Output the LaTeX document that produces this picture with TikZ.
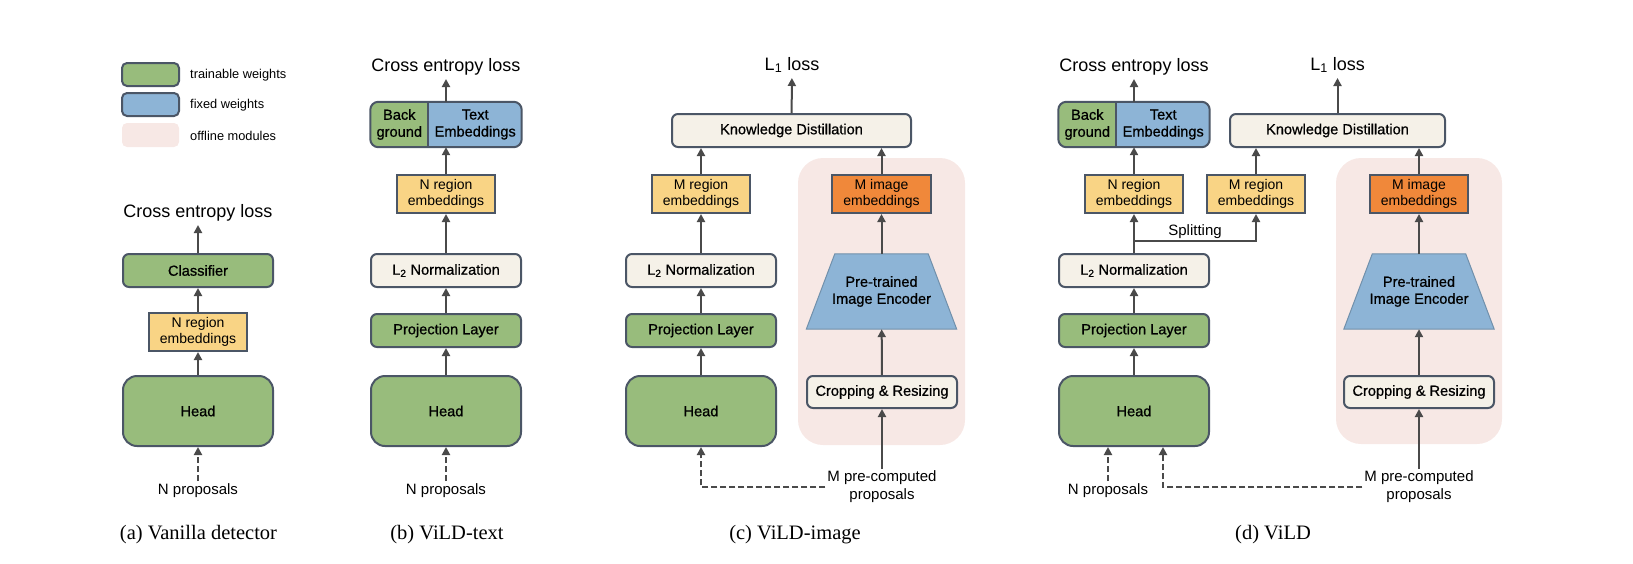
\documentclass[tikz,border=0pt]{standalone}
\usepackage{fontspec}
\setmainfont{Liberation Serif}
\setsansfont{Liberation Sans}
\newfontfamily\medfont{Liberation Sans}[FakeBold=0.7]
\usetikzlibrary{arrows.meta,calc}

\definecolor{trainc}{HTML}{98BC7C}
\definecolor{fixc}{HTML}{8DB4D6}
\definecolor{embc}{HTML}{F9D485}
\definecolor{imgc}{HTML}{F0883A}
\definecolor{normc}{HTML}{F5F1E8}
\definecolor{offc}{HTML}{F7E8E5}
\definecolor{edgec}{HTML}{4B5666}
\definecolor{arrc}{HTML}{4A4A4A}

\pgfdeclarelayer{bg}
\pgfsetlayers{bg,main}

\begin{document}
\begin{tikzpicture}[x=1pt,y=-1pt,
  box/.style={draw=edgec, line width=2pt, align=center, inner sep=0pt},
  trainbox/.style={box, fill=trainc, rounded corners=6pt, minimum width=150pt, minimum height=33pt, font=\medfont\fontsize{14.6}{17}\selectfont},
  normbox/.style={trainbox, fill=normc},
  headbox/.style={trainbox, minimum height=70pt, rounded corners=14pt},
  embbox/.style={box, fill=embc, minimum width=98pt, minimum height=38pt, font=\sffamily\fontsize{14}{16.5}\selectfont},
  encbox/.style={align=center, inner sep=0pt, minimum width=150pt, minimum height=75pt, font=\medfont\fontsize{14.6}{17}\selectfont},
  boxtext/.style={align=center, inner sep=0pt, font=\medfont\fontsize{14.6}{17}\selectfont},
  loss/.style={anchor=base, inner sep=0pt, outer sep=4pt, text depth=4pt, font=\sffamily\fontsize{18}{20}\selectfont},
  prop/.style={align=center, inner sep=0pt, outer sep=2pt, font=\sffamily\fontsize{15}{18}\selectfont},
  caption/.style={anchor=base, font=\fontsize{20.5}{24}\selectfont},
  legtext/.style={anchor=west, inner sep=0pt, font=\sffamily\fontsize{12.8}{15}\selectfont},
  arr/.style={draw=arrc, line width=2pt, -{Triangle[length=8pt,width=8pt]}},
  dasharr/.style={arr, dash pattern=on 6pt off 3pt}]
\useasboundingbox (0,0) rectangle (1633,563);

\node[box, fill=trainc, rounded corners=5pt, minimum width=57pt, minimum height=23pt] (legtr) at (150.5,74.5) {};
\node[box, fill=fixc, rounded corners=5pt, minimum width=57pt, minimum height=23pt] (legfx) at (150.5,104.5) {};
\node[fill=offc, rounded corners=5pt, minimum width=57pt, minimum height=24pt] (legof) at (150.5,135) {};
\node[legtext] (legtrt) at (190,75) {trainable weights};
\node[legtext] (legfxt) at (190,105) {fixed weights};
\node[legtext] (legoft) at (190,136) {offline modules};

\node[loss] (lossa) at (198,217) {Cross entropy loss};
\node[trainbox] (clsa) at (198,270.5) {Classifier};
\node[embbox] (embna) at (198,332) {N region\\embeddings};
\node[headbox] (heada) at (198,411) {Head};
\node[prop, anchor=base] (propa) at (198,494) {N proposals};
\node[caption] (capa) at (198.5,539) {(a) Vanilla detector};

\node[loss] (lossb) at (446,71) {Cross entropy loss};
\node[embbox] (embnb) at (446,194) {N region\\embeddings};
\node[normbox] (l2b) at (446,270.5) {L\textsubscript{2} Normalization};
\node[trainbox] (projb) at (446,330.5) {Projection Layer};
\node[headbox] (headb) at (446,411) {Head};
\node[prop, anchor=base] (propb) at (446,494) {N proposals};
\node[caption] (capb) at (447,539) {(b) ViLD-text};

\foreach \n/\c in {b/446, d/1134} {
  \node[minimum width=151pt, minimum height=45pt, inner sep=0pt] (bt\n) at (\c,124.5) {};
  \begin{scope}
    \clip[rounded corners=8pt] (bt\n.south west) rectangle (bt\n.north east);
    \fill[fixc] (bt\n.south west) rectangle (bt\n.north east);
    \fill[trainc] (bt\n.south west) rectangle ([xshift=58pt]bt\n.north west);
  \end{scope}
  \draw[edgec, line width=2pt, rounded corners=8pt] (bt\n.south west) rectangle (bt\n.north east);
  \draw[edgec, line width=2pt] ([xshift=58pt]bt\n.south west) -- ([xshift=58pt]bt\n.north west);
  \node[boxtext] (bg\n) at ($(bt\n.west)+(29,0)$) {Back\\ground};
  \node[boxtext] (te\n) at ($(bt\n.east)+(-46.5,0)$) {Text\\Embeddings};
}

\node[loss] (lossc) at (792,70) {L\textsubscript{1} loss};
\node[normbox, minimum width=239pt] (kdc) at (791.5,130.5) {Knowledge Distillation};
\node[embbox] (embmc) at (701,194) {M region\\embeddings};
\node[normbox] (l2c) at (701,270.5) {L\textsubscript{2} Normalization};
\node[trainbox] (projc) at (701,330.5) {Projection Layer};
\node[headbox] (headc) at (701,411) {Head};
\node[embbox, fill=imgc, minimum width=99pt] (embic) at (881.5,194) {M image\\embeddings};
\node[encbox] (encc) at (881.5,291.5) {Pre-trained\\Image Encoder};
\node[normbox, minimum height=32pt] (cropc) at (882,392) {Cropping \& Resizing};
\node[prop, anchor=north] (pcc) at (882,469) {M pre-computed\\proposals};
\node[caption] (capc) at (795,539) {(c) ViLD-image};

\node[loss] (lossd) at (1134,71) {Cross entropy loss};
\node[loss] (lossdk) at (1337.5,70) {L\textsubscript{1} loss};
\node[normbox, minimum width=215pt] (kdd) at (1337.5,130.5) {Knowledge Distillation};
\node[embbox] (embnd) at (1134,194) {N region\\embeddings};
\node[embbox] (embmd) at (1256,194) {M region\\embeddings};
\node[normbox] (l2d) at (1134,270.5) {L\textsubscript{2} Normalization};
\node[trainbox] (projd) at (1134,330.5) {Projection Layer};
\node[headbox] (headd) at (1134,411) {Head};
\node[prop, anchor=base] (propd) at (1108,494) {N proposals};
\node[embbox, fill=imgc] (embid) at (1419,194) {M image\\embeddings};
\node[encbox] (encd) at (1419,291.5) {Pre-trained\\Image Encoder};
\node[normbox, minimum height=32pt] (cropd) at (1419,392) {Cropping \& Resizing};
\node[prop, anchor=north] (pcd) at (1419,469) {M pre-computed\\proposals};
\node[caption] (capd) at (1273,539) {(d) ViLD};
\coordinate (spl) at (1134,241);

\begin{pgfonlayer}{bg}
\fill[offc, rounded corners=25pt] (798,158) rectangle (965,445);
\fill[offc, rounded corners=25pt] (1336,158) rectangle (1502,444);
\foreach \n in {encc, encd}
  \filldraw[fill=fixc, draw=fixc!80!black, line width=1pt] (\n.south west) -- (\n.south east) -- ([xshift=-28.5pt]\n.north east) -- ([xshift=28.5pt]\n.north west) -- cycle;
\end{pgfonlayer}

\draw[arr] (heada) -- (embna);
\draw[arr] (embna) -- (clsa);
\draw[arr] (clsa) -- (lossa);
\draw[dasharr] (propa) -- (heada);

\draw[arr] (headb) -- (projb);
\draw[arr] (projb) -- (l2b);
\draw[arr] (l2b) -- (embnb);
\draw[arr] (embnb) -- (btb);
\draw[arr] (btb) -- (lossb);
\draw[dasharr] (propb) -- (headb);

\draw[arr] (headc) -- (projc);
\draw[arr] (projc) -- (l2c);
\draw[arr] (l2c) -- (embmc);
\draw[arr] (embmc) -- (embmc |- kdc.south);
\draw[arr] (kdc) -- (lossc);
\draw[arr] (pcc) -- (cropc);
\draw[arr] (cropc) -- (encc);
\draw[arr] (encc) -- (embic);
\draw[arr] (embic) -- (embic |- kdc.south);
\draw[dasharr] (pcc.west) -| (headc.south);

\draw[arr] (headd) -- (projd);
\draw[arr] (projd) -- (l2d);
\draw[arr] (l2d) -- (embnd);
\draw[arr] (spl) -| (embmd) node[pos=0.25, above, inner sep=1pt, font=\sffamily\fontsize{15}{18}\selectfont] {Splitting};
\draw[arr] (embnd) -- (btd);
\draw[arr] (btd) -- (lossd);
\draw[arr] (embmd) -- (embmd |- kdd.south);
\draw[arr] (kdd) -- (lossdk);
\draw[arr] (pcd) -- (cropd);
\draw[arr] (cropd) -- (encd);
\draw[arr] (encd) -- (embid);
\draw[arr] (embid) -- (embid |- kdd.south);
\draw[dasharr] (propd) -- (propd |- headd.south);
\draw[dasharr] (pcd.west) -| ([xshift=29pt]headd.south);
\end{tikzpicture}
\end{document}
